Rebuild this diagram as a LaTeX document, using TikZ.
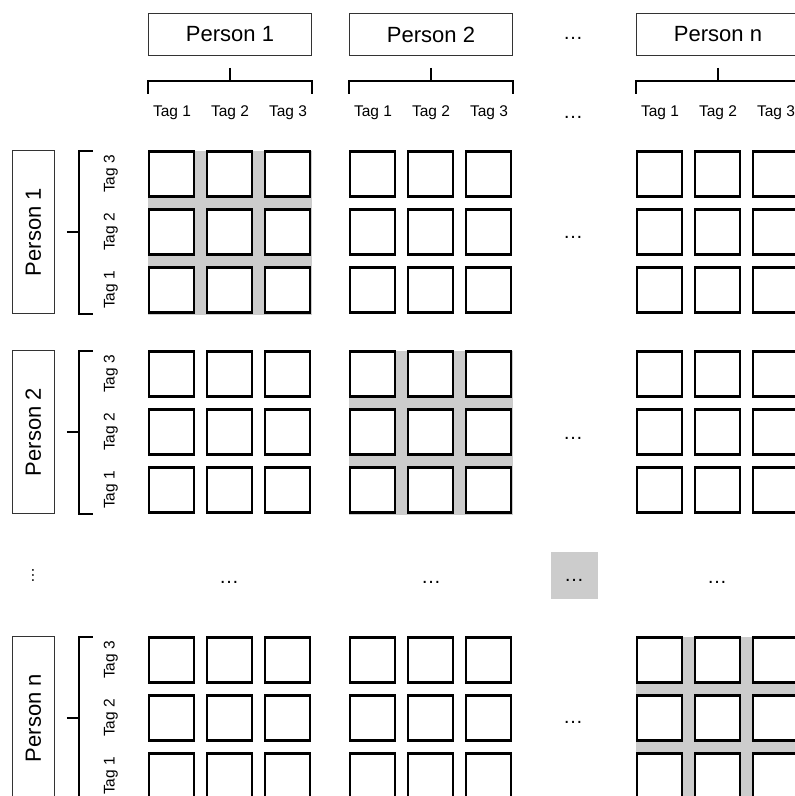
\documentclass[tikz,border=0pt]{standalone}
\usepackage{fontspec}
\setmainfont{Liberation Sans}
\usetikzlibrary{calc,positioning}
\tikzset{
  pbox/.style={draw=black!80,line width=0.9pt,minimum width=163pt,minimum height=42pt,inner sep=0pt,font=\fontsize{22}{24}\selectfont},
  cell/.style={draw,line width=2.2pt,fill=white,minimum size=45pt,inner sep=0pt},
  taglab/.style={inner sep=0pt,font=\fontsize{15.5}{17}\selectfont},
  brk/.style={line width=2pt},
  dotlab/.style={inner sep=0pt,anchor=base,font=\fontsize{20}{22}\selectfont},
  hilite/.style={fill=black!20}
}
\begin{document}
\begin{tikzpicture}[x=1pt,y=-1pt]
 \clip (0,0) rectangle (795,796);
 \fill[white] (0,0) rectangle (795,796);
 % diagonal blocks
 \foreach \b/\c in {148/150.5,349/350.5,636/636.5}
   \fill[hilite] (\b,\c) rectangle ++(164,164);
 % cell grid
 \foreach \bx/\pc in {148/1,349/2,636/n}
  \foreach \by/\pr in {150.5/1,350.5/2,636.5/n}
   \foreach \j in {1,2,3}
    \foreach \i in {1,2,3}
     \node[cell] (c\pr\pc\i\j) at ({\bx+23.5+58*(\j-1)},{\by+23.5+58*(3-\i)}) {};
 % column heads
 \node[pbox] (ph1) at (230,34.5) {Person 1};
 \node[pbox] (ph2) at (431,34.5) {Person 2};
 \node[pbox] (phn) at (718,34.5) {Person n};
 \foreach \p in {ph1,ph2,phn}{
   \draw[brk] ($(\p.south west)+(0,38)$) |- ($(\p.south east)+(0,25)$) -- ++(0,13);
   \draw[brk] ($(\p.south)+(0,12)$) -- ++(0,13);
   \node[taglab] at ($(\p.south)+(-58,57)$) {Tag 1};
   \node[taglab] at ($(\p.south)+(0,57)$) {Tag 2};
   \node[taglab] at ($(\p.south)+(58,57)$) {Tag 3};
 }
 % row heads
 \node[pbox,rotate=90] (pv1) at (33.3,232) {Person 1};
 \node[pbox,rotate=90] (pv2) at (33.3,432) {Person 2};
 \node[pbox,rotate=90] (pvn) at (33.3,718) {Person n};
 \foreach \p in {pv1,pv2,pvn}{
   \draw[brk] ($(\p.center)+(59.5,-81.5)$) -| ($(\p.center)+(46,0)$) |- ($(\p.center)+(59.5,81.5)$);
   \draw[brk] ($(\p.center)+(33.5,0)$) -- ++(12.5,0);
   \node[taglab,rotate=90] at ($(\p.center)+(77.5,58)$) {Tag 1};
   \node[taglab,rotate=90] at ($(\p.center)+(77.5,0)$) {Tag 2};
   \node[taglab,rotate=90] at ($(\p.center)+(77.5,-58)$) {Tag 3};
 }
 % ellipses
 \node[dotlab] (dh) at (573,39) {…};
 \node[dotlab] (dt) at (573,118) {…};
 \node[dotlab] (d1) at (573,238) {…};
 \node[dotlab] (d2) at (573,439) {…};
 \node[dotlab] (dn) at (573,723.5) {…};
 \node[dotlab] (db1) at (229,583) {…};
 \node[dotlab] (db2) at (431,583) {…};
 \node[dotlab] (dbn) at (717,583) {…};
 \node[hilite,minimum size=47pt,inner sep=0pt] (gbox) at (574.3,575.2) {};
 \node[dotlab] (dg) at (574,581.5) {…};
 \node[inner sep=0pt,rotate=90,font=\fontsize{16}{17}\selectfont] (dv) at (33,575) {…};
\end{tikzpicture}
\end{document}
